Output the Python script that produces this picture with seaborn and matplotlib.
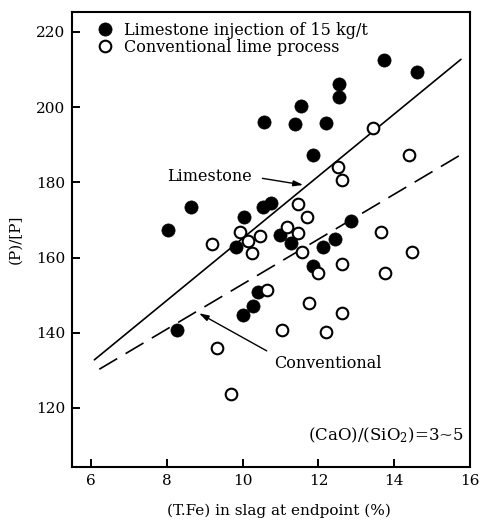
import matplotlib
matplotlib.use('Agg')
import matplotlib.pyplot as plt
import seaborn as sns
import pandas as pd

# Datos
# Inyeccion de caliza (15 kg/t) - circulos rellenos
lime_tfe = [8.02, 8.64, 9.83, 13.74, 14.59, 12.54, 12.54, 11.54, 10.57, 11.37,
            12.21, 11.86, 10.75, 10.54, 10.03, 12.85, 10.99, 11.28, 12.43, 12.13,
            11.85, 8.27, 10.42, 10.27, 10.01]
lime_ratio = [167.3, 173.5, 162.9, 212.6, 209.3, 206.1, 202.6, 200.3, 196.1, 195.5,
              195.7, 187.3, 174.6, 173.4, 170.9, 169.7, 166.0, 163.9, 164.9, 162.9,
              157.8, 140.7, 150.9, 147.0, 144.7]

# Proceso convencional - circulos vacios
conv_tfe = [9.19, 9.94, 10.14, 10.45, 10.25, 13.43, 14.40, 12.52, 12.61, 11.47,
            11.71, 11.18, 11.47, 13.65, 11.56, 14.48, 12.61, 12.00, 13.75, 11.76,
            12.61, 11.03, 12.21, 10.64, 9.32, 9.70]
conv_ratio = [163.5, 166.9, 164.4, 165.6, 161.1, 194.5, 187.3, 184.0, 180.5, 174.3,
              170.9, 168.0, 166.5, 166.7, 161.6, 161.6, 158.2, 155.9, 155.8, 147.8,
              145.2, 140.7, 140.1, 151.4, 135.9, 123.7]

# Rectas de tendencia (extremos)
lime_line_x = [6.09, 15.76]
lime_line_y = [132.8, 212.7]
conv_line_x = [6.22, 15.75]
conv_line_y = [130.3, 187.3]

x_ticks = [6, 8, 10, 12, 14, 16]
y_ticks = [120, 140, 160, 180, 200, 220]

sns.set_style('ticks')
plt.rcParams['font.family'] = ['DejaVu Serif']
plt.rcParams['mathtext.fontset'] = 'dejavuserif'
plt.rcParams['lines.scale_dashes'] = False
# Todo en negro, como el original escaneado
for clave in ['text.color', 'axes.labelcolor', 'xtick.color', 'ytick.color']:
    plt.rcParams[clave] = 'black'

df_lime = pd.DataFrame({'tfe': lime_tfe, 'ratio': lime_ratio})
df_conv = pd.DataFrame({'tfe': conv_tfe, 'ratio': conv_ratio})

fig = plt.figure(figsize=(4.8, 5.21), dpi=100)
ax = fig.add_axes([72 / 480, 1 - 467 / 521, 398 / 480, 455 / 521])

# Puntos
sns.scatterplot(data=df_lime, x='tfe', y='ratio', ax=ax, s=90, color='black',
                edgecolor='black', linewidth=0.5,
                label='Limestone injection of 15 kg/t', zorder=3)
sns.scatterplot(data=df_conv, x='tfe', y='ratio', ax=ax, s=70, facecolor='white',
                edgecolor='black', linewidth=1.5,
                label='Conventional lime process', zorder=3)

# Rectas
ax.plot(lime_line_x, lime_line_y, color='black', linewidth=1.2, zorder=2)
ax.plot(conv_line_x, conv_line_y, color='black', linewidth=1.2,
        dashes=(15, 7), zorder=2)

# Anotaciones
ax.annotate('Limestone', xy=(11.60, 179.3), xytext=(8.02, 181.5),
            ha='left', va='center', fontsize=11.5,
            arrowprops=dict(arrowstyle='-|>,head_length=0.5,head_width=0.15',
                            color='black', lw=1.0, relpos=(1, 0.5),
                            shrinkA=5, shrinkB=0))
ax.annotate('Conventional', xy=(8.85, 145.2), xytext=(10.82, 131.9),
            ha='left', va='center', fontsize=11.5,
            arrowprops=dict(arrowstyle='-|>,head_length=0.5,head_width=0.15',
                            color='black', lw=1.0, relpos=(0, 1),
                            shrinkA=3, shrinkB=0))
ax.text(15.83, 112.8, r'(CaO)/(SiO$_2$)=3~5', ha='right', va='center',
        fontsize=12)

ax.set_xlim(5.5, 16)
ax.set_ylim(104.3, 225.3)
ax.set_xticks(x_ticks)
ax.set_yticks(y_ticks)
ax.tick_params(direction='in', length=6, width=1.4, labelsize=11, pad=5,
               color='black', labelcolor='black')
for lado in ['top', 'right', 'bottom', 'left']:
    ax.spines[lado].set_visible(True)
    ax.spines[lado].set_linewidth(1.5)
    ax.spines[lado].set_color('black')

ax.set_xlabel('(T.Fe) in slag at endpoint (%)', fontsize=11)
ax.set_ylabel('(P)/[P]', fontsize=11)
ax.xaxis.set_label_coords(0.52, -0.08)
ax.yaxis.set_label_coords(-0.125, 0.5)

ax.legend(loc='upper left', bbox_to_anchor=(0.062, 0.978), frameon=False,
          fontsize=11.5, borderpad=0, borderaxespad=0, handlelength=1.0,
          handletextpad=0.68, labelspacing=-0.02, scatteryoffsets=[0.5],
          labelcolor='black')

fig.savefig('out.png', dpi=100)
plt.close(fig)
